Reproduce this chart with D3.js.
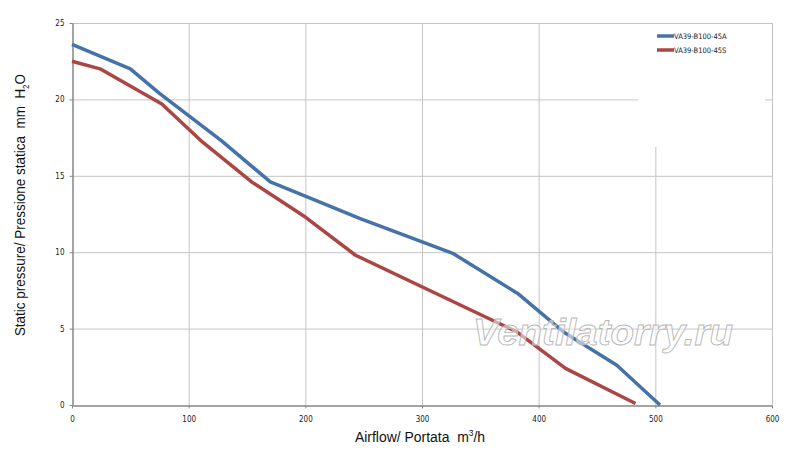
<!DOCTYPE html>
<html>
<head>
<meta charset="utf-8">
<script src="https://cdn.jsdelivr.net/npm/d3@7"></script>
<style>
  body { margin: 0; background: #fff; }
  svg { display: block; font-family: "Liberation Sans", Arial, sans-serif; }
</style>
</head>
<body>
<div id="chart"></div>
<script>
// Series (airflow m3/h, static pressure mm H2O)
const seriesNames = ["VA39-B100-45A", "VA39-B100-45S"]
const flowA = [0, 50, 75, 128, 170, 212, 247, 327, 382, 421, 467, 504]
const pressA = [23.6, 22.0, 20.4, 17.3, 14.6, 13.3, 12.2, 9.9, 7.3, 4.8, 2.6, 0]
const flowS = [0, 24, 77, 112, 154, 200, 243, 381, 423, 483]
const pressS = [22.5, 22.0, 19.7, 17.2, 14.6, 12.3, 9.8, 4.8, 2.4, 0.1]
const xTicks = [0, 100, 200, 300, 400, 500, 600]
const yTicks = [0, 5, 10, 15, 20, 25]
const colors = ["#4572a7", "#aa4643"]

const width = 800
const height = 471

const svg = d3.select("#chart").append("svg").attr("width", width).attr("height", height)

// Plot area
const x = d3.scaleLinear().domain([0, 600]).range([72, 772])
const y = d3.scaleLinear().domain([0, 25]).range([405, 23])

// Gridlines
const grid = svg.append("g").attr("stroke", "#c4c4c4").attr("stroke-width", 1)
grid
  .selectAll("line.v")
  .data(xTicks.slice(1))
  .enter()
  .append("line")
  .attr("x1", (d) => x(d) + 0.5)
  .attr("x2", (d) => x(d) + 0.5)
  .attr("y1", y(25))
  .attr("y2", y(0))
grid
  .selectAll("line.h")
  .data(yTicks.slice(1))
  .enter()
  .append("line")
  .attr("x1", x(0))
  .attr("x2", x(600))
  .attr("y1", (d) => y(d) + 0.5)
  .attr("y2", (d) => y(d) + 0.5)

// Axes
const xAxis = svg
  .append("g")
  .attr("transform", `translate(0,${y(0) + 0.5})`)
  .call(d3.axisBottom(x).tickValues(xTicks).tickSize(3).tickSizeOuter(0))
const yAxis = svg
  .append("g")
  .attr("transform", `translate(${x(0) + 0.5},0)`)
  .call(d3.axisLeft(y).tickValues(yTicks).tickSize(3).tickSizeOuter(0))

;[xAxis, yAxis].forEach((a) => {
  a.select(".domain").attr("stroke", "#868686").attr("stroke-width", 1.5)
  a.selectAll(".tick line").attr("stroke", "#868686")
  a.selectAll(".tick text")
    .attr("fill", "#222")
    .style("font-family", "'Liberation Sans Narrow', 'DejaVu Sans Condensed', sans-serif")
    .style("font-size", "8px")
})
xAxis.selectAll(".tick text").attr("dy", "1.3em")
yAxis.selectAll(".tick text").attr("dx", "-2px")

// Lines
const line = d3
  .line()
  .x((d) => x(d[0]))
  .y((d) => y(d[1]))

const data = [d3.zip(flowA, pressA), d3.zip(flowS, pressS)]

svg
  .append("g")
  .selectAll("path")
  .data(data)
  .enter()
  .append("path")
  .attr("d", line)
  .attr("fill", "none")
  .attr("stroke", (d, i) => colors[i])
  .attr("stroke-width", 3.5)
  .attr("stroke-linejoin", "round")

// Legend box hides part of the grid
svg.append("rect").attr("x", 638).attr("y", 24).attr("width", 127).attr("height", 123).attr("fill", "#fff")

const legend = svg
  .append("g")
  .selectAll("g")
  .data(seriesNames)
  .enter()
  .append("g")
  .attr("transform", (d, i) => `translate(657,${36 + i * 14})`)
legend
  .append("line")
  .attr("x1", 0)
  .attr("x2", 17)
  .attr("stroke", (d, i) => colors[i])
  .attr("stroke-width", 3.5)
legend
  .append("text")
  .attr("x", 17)
  .attr("dy", "0.35em")
  .attr("fill", "#222")
  .style("font-family", "'Liberation Sans Narrow', 'DejaVu Sans Condensed', sans-serif")
  .style("font-size", "7.5px")
  .text((d) => d)

// Axis titles (slightly condensed like the original)
svg
  .append("text")
  .attr("transform", "translate(420,442) scale(0.93,1)")
  .attr("text-anchor", "middle")
  .attr("fill", "#111")
  .style("font-size", "15px")
  .html('Airflow/ Portata&#160; m<tspan dy="-6" font-size="9">3</tspan><tspan dy="6">/h</tspan>')

svg
  .append("text")
  .attr("transform", "translate(25,205) rotate(-90) scale(0.9,1)")
  .attr("text-anchor", "middle")
  .attr("fill", "#111")
  .style("font-size", "15px")
  .html(
    'Static pressure/ Pressione statica&#160; mm&#160; H<tspan dy="4" font-size="9">2</tspan><tspan dy="-4">O</tspan>',
  )

// Watermark
svg
  .append("text")
  .attr("x", 473)
  .attr("y", 345)
  .attr("textLength", 260)
  .attr("lengthAdjust", "spacingAndGlyphs")
  .style("font-size", "37px")
  .style("font-style", "italic")
  .style("font-weight", "bold")
  .attr("fill", "rgba(255,255,255,0.55)")
  .attr("stroke", "#b8b8b8")
  .attr("stroke-width", 0.9)
  .text("Ventilatorry.ru")
</script>
</body>
</html>
